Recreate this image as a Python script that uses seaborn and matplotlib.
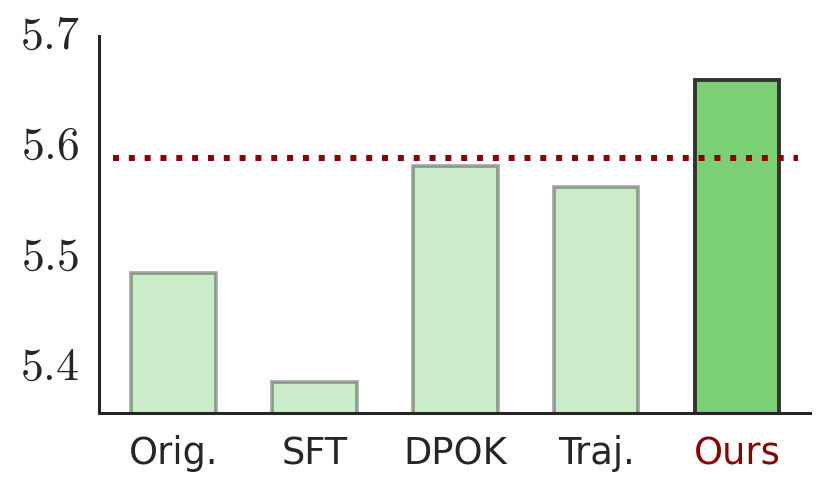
import matplotlib
matplotlib.use("Agg")
import matplotlib.pyplot as plt
import matplotlib.transforms as mtransforms
import seaborn as sns
import pandas as pd

categories = ["Orig.", "SFT", "DPOK", "Traj.", "Ours"]
values = [5.485, 5.386, 5.582, 5.563, 5.660]
reference_line = 5.589
y_ticks = [5.4, 5.5, 5.6, 5.7]

sns.set_theme(style="white")
plt.rcParams["mathtext.fontset"] = "cm"

fig = plt.figure(figsize=(8.31, 4.98), dpi=100)
ax = fig.add_axes([0.119, 0.171, 0.856, 0.757])

df = pd.DataFrame({"method": categories, "score": values})
colors = ["#77cf6f"] * 5
sns.barplot(data=df, x="method", y="score", hue="method", palette=colors,
            legend=False, width=0.6, ax=ax, saturation=1)

for i, p in enumerate(ax.patches):
    if i < 4:
        p.set_facecolor((0.467, 0.812, 0.435, 0.38))
        p.set_edgecolor((0.2, 0.2, 0.2, 0.45))
        p.set_linewidth(2.6)
    else:
        p.set_facecolor((0.482, 0.816, 0.455, 1.0))
        p.set_edgecolor("#333333")
        p.set_linewidth(2.8)

ax.hlines(reference_line, -0.43, 4.43, colors="#8b0000", linestyles=":",
          linewidth=4.3)

ax.set_xlim(-0.53, 4.52)
ax.set_ylim(5.358, 5.7)
ax.set_yticks(y_ticks)
ax.set_yticklabels([f"${v}$" for v in y_ticks], fontsize=33)
ax.set_xlabel("")
ax.set_ylabel("")
ax.set_xticks(range(len(categories)))
ax.set_xticklabels(categories, fontsize=26.5, family="DejaVu Sans")
ax.tick_params(axis="y", length=0, pad=14, colors="#262626")
ax.tick_params(axis="x", length=0, pad=16, colors="#262626")
ax.get_xticklabels()[-1].set_color("#8b0000")

shift = mtransforms.ScaledTranslation(0, 0.045, fig.dpi_scale_trans)
for lbl in ax.get_yticklabels():
    lbl.set_transform(lbl.get_transform() + shift)

sns.despine(ax=ax)
for s in ["left", "bottom"]:
    ax.spines[s].set_linewidth(2.2)
    ax.spines[s].set_color("#262626")

fig.savefig("out.png", dpi=100)
